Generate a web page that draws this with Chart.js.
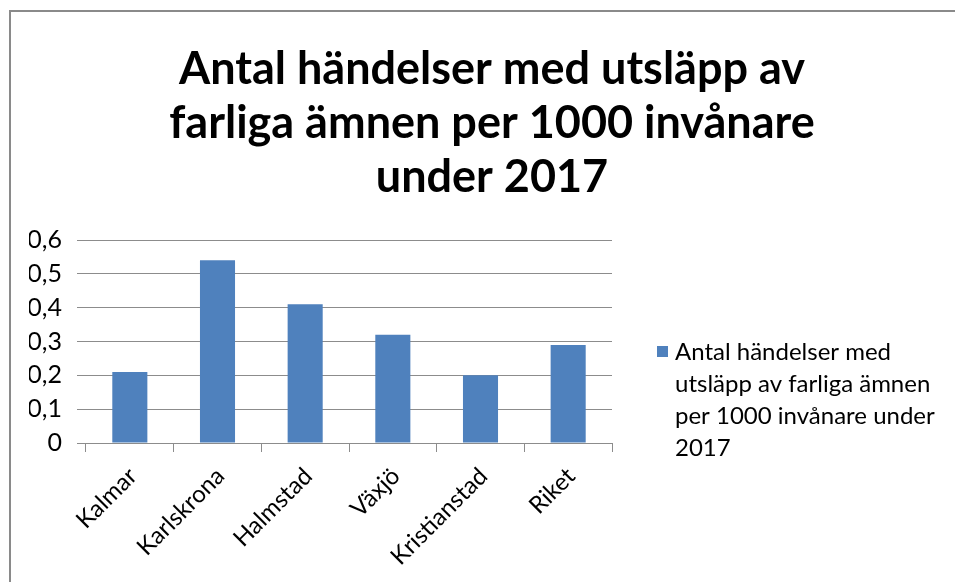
<!DOCTYPE html>
<html>
<head>
<meta charset="utf-8">
<script src="https://cdn.jsdelivr.net/npm/chart.js@4.4.0/dist/chart.umd.min.js"></script>
<style>
  body { margin: 0; background: #fff; }
  #wrap { position: relative; width: 955px; height: 582px; overflow: hidden; }
  #frame { position: absolute; left: 9px; top: 10px; width: 2000px; height: 2000px;
           border-left: 2px solid #8a8a8a; border-top: 2px solid #8a8a8a; pointer-events: none; }
  canvas { position: absolute; left: 0; top: 0; }
</style>
</head>
<body>
<div id="wrap">
  <canvas id="chart_Utslapp" width="955" height="582"></canvas>
  <div id="frame"></div>
</div>
<script>
var categories = ["Kalmar", "Karlskrona", "Halmstad", "Växjö", "Kristianstad", "Riket"];
var values = [0.21, 0.54, 0.41, 0.32, 0.20, 0.29];
var seriesLabel = "Antal händelser med utsläpp av farliga ämnen per 1000 invånare under 2017";
var titleLines = ["Antal händelser med utsläpp av", "farliga ämnen per 1000 invånare", "under 2017"];
var yMin = 0, yMax = 0.6, yStep = 0.1;

var fontFam = "Lato, 'Open Sans', sans-serif";
var gridGray = "#8c8c8c";

// legend on the right, wrapped over several lines like the original
var sideLegend = {
    id: 'sideLegend',
    afterDraw: function (chart) {
        var ctx = chart.ctx;
        var ds = chart.data.datasets[0];
        ctx.save();
        ctx.font = "24px " + fontFam;
        var words = ds.label.split(" ");
        var lines = [];
        var cur = "";
        for (var i = 0; i < words.length; i++) {
            var test = cur ? cur + " " + words[i] : words[i];
            if (ctx.measureText(test).width > 276 && cur) {
                lines.push(cur);
                cur = words[i];
            } else {
                cur = test;
            }
        }
        lines.push(cur);
        ctx.fillStyle = ds.backgroundColor;
        ctx.fillRect(657, 346, 11, 11);
        ctx.fillStyle = "#000";
        ctx.textBaseline = "middle";
        for (var j = 0; j < lines.length; j++) {
            ctx.fillText(lines[j], 675, 352 + j * 32);
        }
        ctx.restore();
    }
};

new Chart(document.getElementById("chart_Utslapp"), {
    type: 'bar',
    data: {
        labels: categories,
        datasets: [{
            label: seriesLabel,
            backgroundColor: "#4f81bd",
            data: values,
            categoryPercentage: 1.0,
            barPercentage: 0.4
        }]
    },
    options: {
        responsive: false,
        animation: false,
        devicePixelRatio: 1,
        layout: { padding: { left: 29, right: 0, top: 0, bottom: 0 } },
        plugins: {
            legend: { display: false },
            tooltip: { enabled: false },
            title: {
                display: true,
                text: titleLines,
                color: "#000",
                font: { family: fontFam, size: 45, weight: 'bold', lineHeight: 1.2 },
                padding: { top: 42, bottom: 36 },
                align: 'center'
            }
        },
        scales: {
            x: {
                offset: true,
                grid: { display: true, drawOnChartArea: false, drawTicks: true, tickLength: 9, color: gridGray, offset: true },
                border: { display: true, color: gridGray, width: 1 },
                ticks: {
                    color: "#000",
                    font: { family: fontFam, size: 24 },
                    minRotation: 45,
                    maxRotation: 45,
                    padding: 10,
                    labelOffset: 3
                },
                afterFit: function (scale) { scale.height = 139; }
            },
            y: {
                min: yMin,
                max: yMax,
                grid: { color: gridGray, lineWidth: 1, tickLength: 9, drawTicks: true },
                border: { display: false },
                ticks: {
                    stepSize: yStep,
                    color: "#000",
                    font: { family: fontFam, size: 25 },
                    padding: 15,
                    callback: function (v) {
                        if (v === 0) return "0";
                        return v.toFixed(1).replace(".", ",");
                    }
                },
                afterFit: function (scale) { scale.width = 57; }
            },
            // empty axis on the right that keeps room for the legend
            room: {
                type: 'linear',
                position: 'right',
                display: true,
                grid: { display: false },
                border: { display: false },
                ticks: { display: false },
                afterFit: function (scale) { scale.width = 343; }
            }
        }
    },
    plugins: [sideLegend]
});
</script>
</body>
</html>
